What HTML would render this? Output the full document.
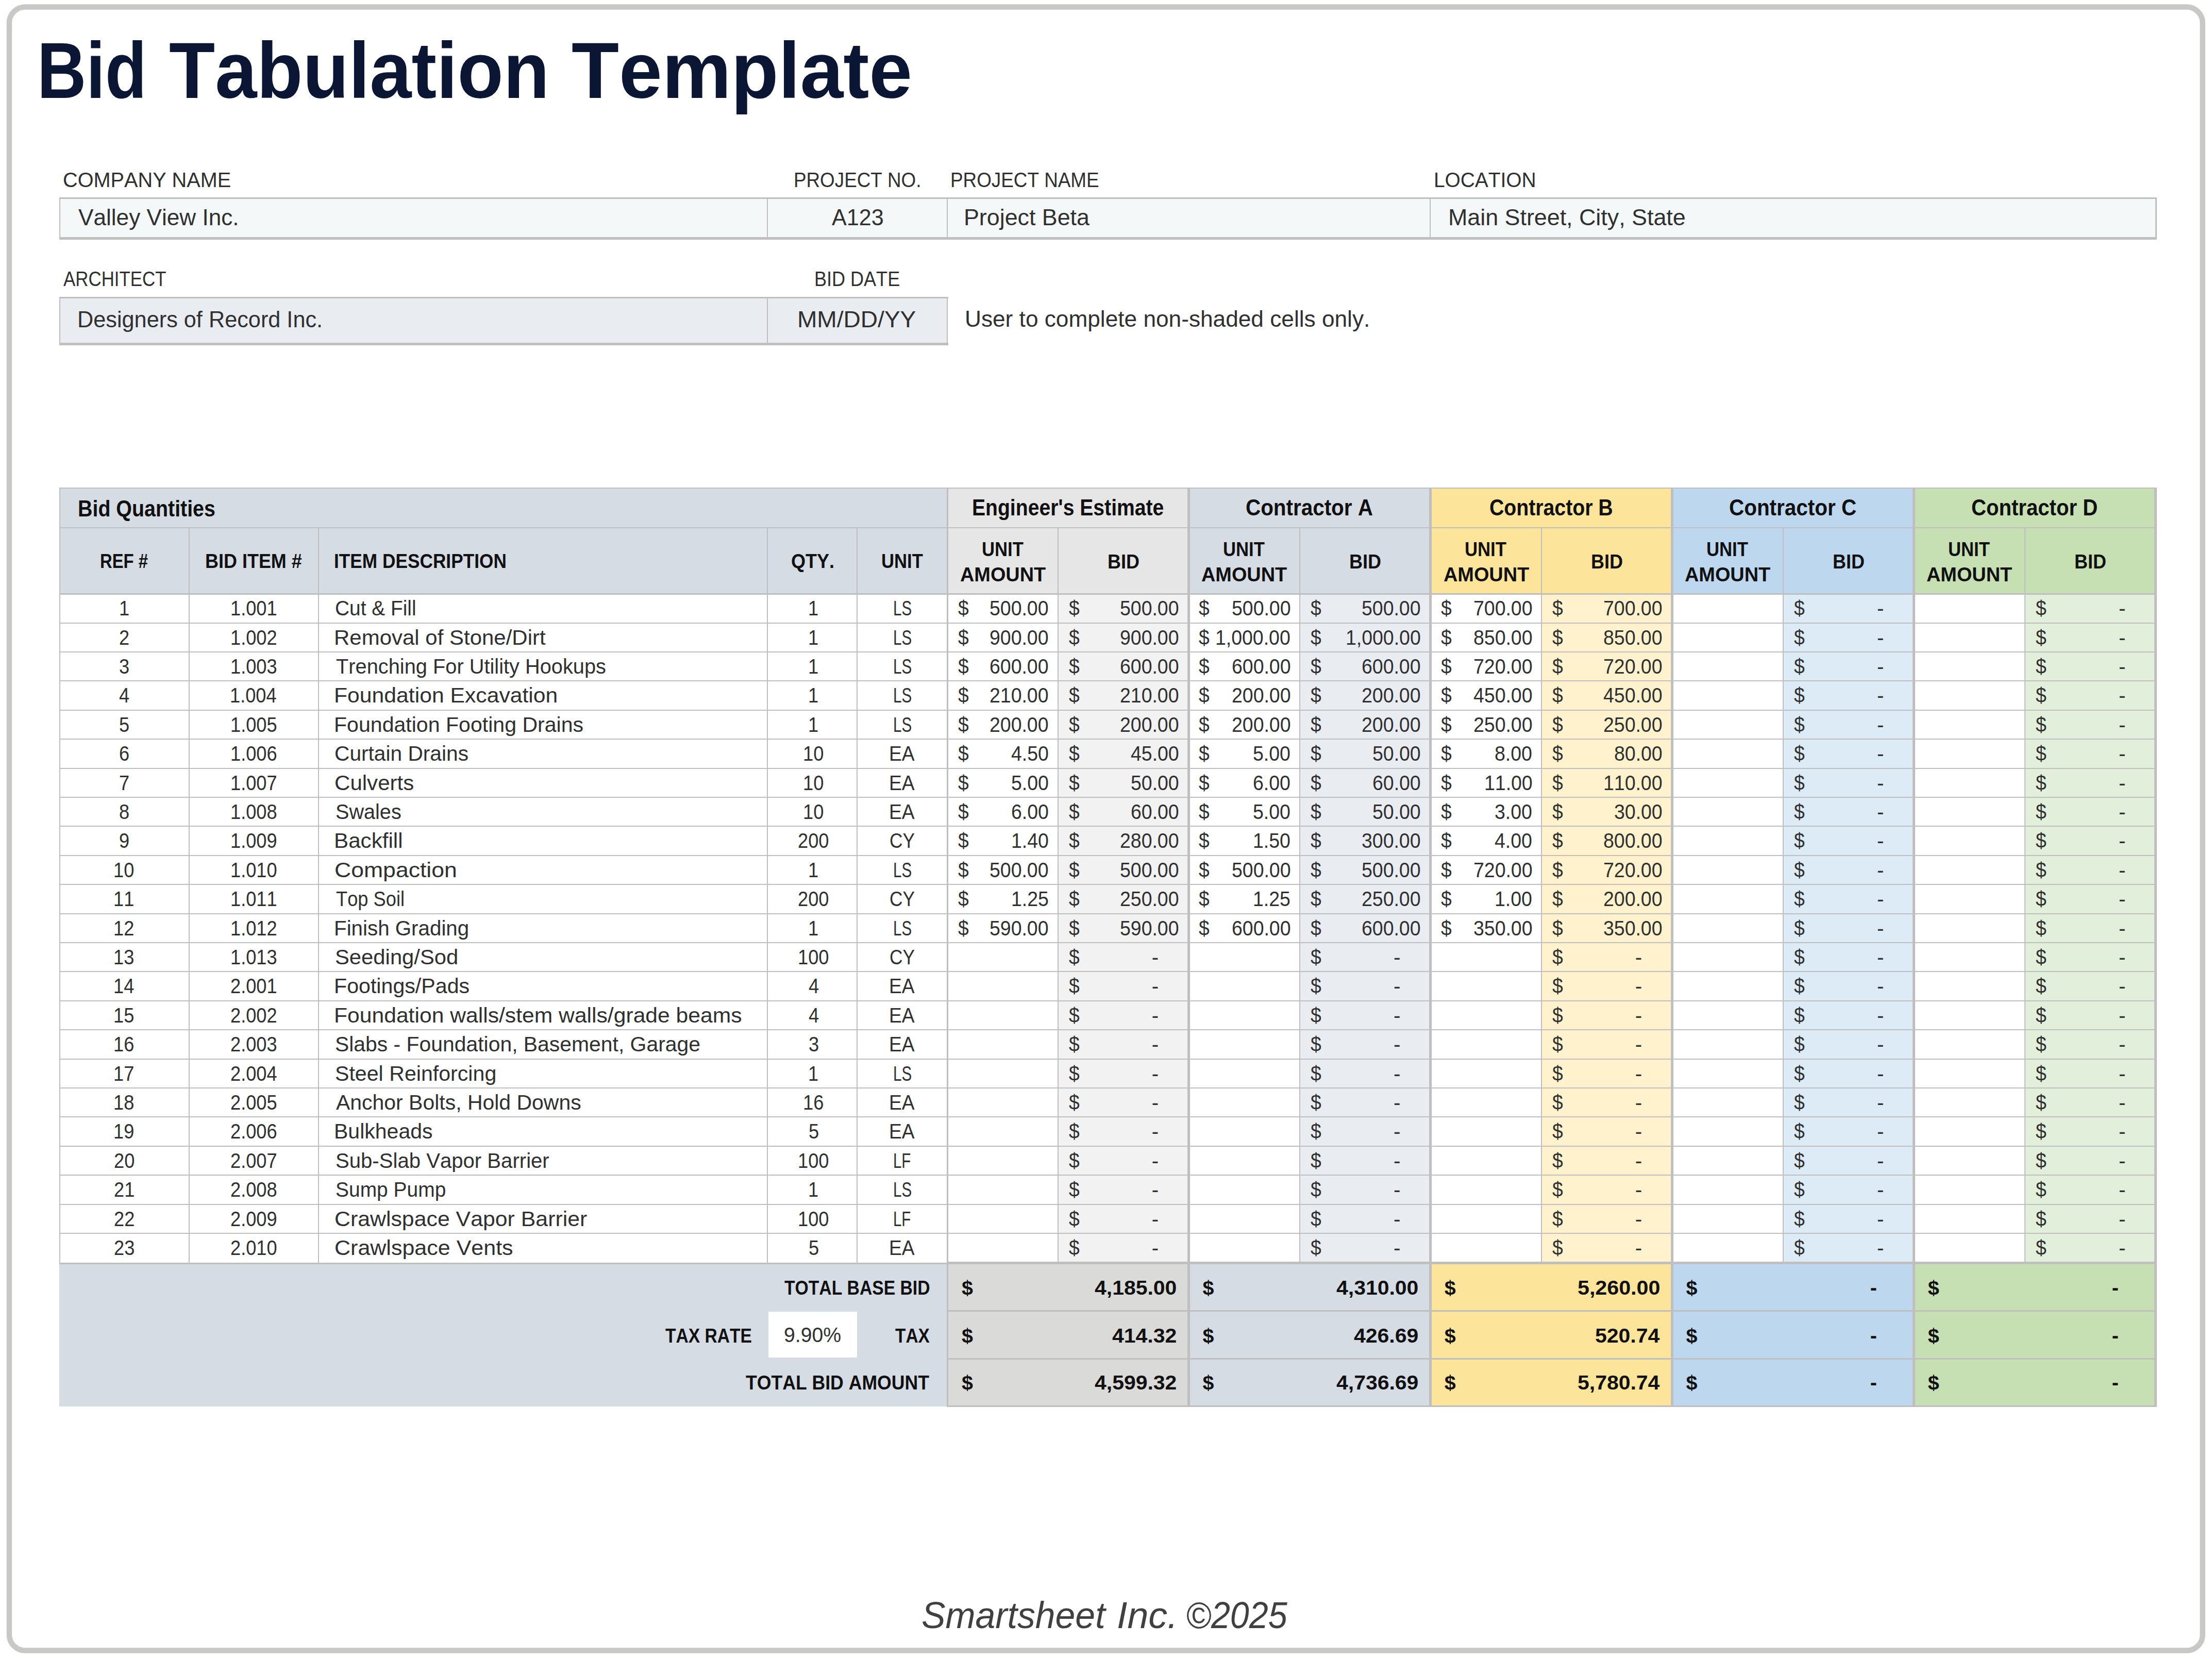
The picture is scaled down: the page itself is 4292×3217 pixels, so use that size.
<!DOCTYPE html>
<html lang="en"><head><meta charset="utf-8"><title>Bid Tabulation Template</title>
<style>
html,body{margin:0;padding:0;width:4292px;height:3217px;overflow:hidden;background:#fff;}
.r{position:absolute;}
.t{position:absolute;white-space:nowrap;font-family:"Liberation Sans",Arial,sans-serif;color:#111;transform-origin:0 0;font-kerning:none;}
</style></head><body>
<svg class="r" style="left:0;top:0" width="4292" height="3217" viewBox="0 0 4292 3217"><rect x="17.95" y="13.45" width="4255.8" height="3189.1" rx="30.8" ry="30.8" fill="none" stroke="#c8c8c6" stroke-width="10.5"/></svg>
<div class="r" style="left:116.00px;top:384.60px;width:4067.50px;height:78.00px;background:#f5f8f9;"></div>
<div class="r" style="left:115.00px;top:383.00px;width:4070.00px;height:2.70px;background:#bfbfbf;"></div>
<div class="r" style="left:115.00px;top:460.00px;width:4070.00px;height:4.70px;background:#bfbfbf;"></div>
<div class="r" style="left:115.00px;top:383.30px;width:2.20px;height:81.70px;background:#bfbfbf;"></div>
<div class="r" style="left:4182.00px;top:383.30px;width:2.70px;height:81.70px;background:#bfbfbf;"></div>
<div class="r" style="left:1488.00px;top:384.00px;width:2.30px;height:78.00px;background:#bfbfbf;"></div>
<div class="r" style="left:1837.00px;top:384.00px;width:2.30px;height:78.00px;background:#bfbfbf;"></div>
<div class="r" style="left:2774.00px;top:384.00px;width:2.30px;height:78.00px;background:#bfbfbf;"></div>
<div class="r" style="left:116.00px;top:577.00px;width:1722.00px;height:90.00px;background:#e9ecf1;"></div>
<div class="r" style="left:115.00px;top:576.00px;width:1724.60px;height:2.60px;background:#bfbfbf;"></div>
<div class="r" style="left:115.00px;top:665.00px;width:1724.60px;height:4.60px;background:#bfbfbf;"></div>
<div class="r" style="left:115.00px;top:576.00px;width:2.20px;height:93.60px;background:#bfbfbf;"></div>
<div class="r" style="left:1837.00px;top:576.00px;width:2.40px;height:93.60px;background:#bfbfbf;"></div>
<div class="r" style="left:1488.00px;top:577.00px;width:2.30px;height:90.00px;background:#bfbfbf;"></div>
<div class="r" style="left:116.00px;top:947.20px;width:1722.40px;height:205.10px;background:#d6dce4;"></div>
<div class="r" style="left:1838.40px;top:947.20px;width:467.70px;height:205.10px;background:#e7e6e6;"></div>
<div class="r" style="left:1838.40px;top:1152.30px;width:215.00px;height:1298.30px;background:#ffffff;"></div>
<div class="r" style="left:2053.40px;top:1152.30px;width:252.70px;height:1298.30px;background:#f2f2f2;"></div>
<div class="r" style="left:1838.40px;top:2450.60px;width:467.70px;height:277.70px;background:#dadad8;"></div>
<div class="r" style="left:2306.10px;top:947.20px;width:469.20px;height:205.10px;background:#d6dce4;"></div>
<div class="r" style="left:2306.10px;top:1152.30px;width:216.40px;height:1298.30px;background:#ffffff;"></div>
<div class="r" style="left:2522.50px;top:1152.30px;width:252.80px;height:1298.30px;background:#e9ecf1;"></div>
<div class="r" style="left:2306.10px;top:2450.60px;width:469.20px;height:277.70px;background:#d6dce4;"></div>
<div class="r" style="left:2775.30px;top:947.20px;width:468.80px;height:205.10px;background:#fde49b;"></div>
<div class="r" style="left:2775.30px;top:1152.30px;width:216.40px;height:1298.30px;background:#ffffff;"></div>
<div class="r" style="left:2991.70px;top:1152.30px;width:252.40px;height:1298.30px;background:#fff2cc;"></div>
<div class="r" style="left:2775.30px;top:2450.60px;width:468.80px;height:277.70px;background:#fde49b;"></div>
<div class="r" style="left:3244.10px;top:947.20px;width:469.10px;height:205.10px;background:#bdd7ee;"></div>
<div class="r" style="left:3244.10px;top:1152.30px;width:216.40px;height:1298.30px;background:#ffffff;"></div>
<div class="r" style="left:3460.50px;top:1152.30px;width:252.70px;height:1298.30px;background:#ddebf7;"></div>
<div class="r" style="left:3244.10px;top:2450.60px;width:469.10px;height:277.70px;background:#bdd7ee;"></div>
<div class="r" style="left:3713.20px;top:947.20px;width:469.10px;height:205.10px;background:#c6e0b4;"></div>
<div class="r" style="left:3713.20px;top:1152.30px;width:216.40px;height:1298.30px;background:#ffffff;"></div>
<div class="r" style="left:3929.60px;top:1152.30px;width:252.70px;height:1298.30px;background:#e2efda;"></div>
<div class="r" style="left:3713.20px;top:2450.60px;width:469.10px;height:277.70px;background:#c6e0b4;"></div>
<div class="r" style="left:115.00px;top:2450.60px;width:1723.40px;height:278.90px;background:#d6dce4;"></div>
<div class="r" style="left:1490.80px;top:2545.20px;width:172.00px;height:89.30px;background:#ffffff;"></div>
<div class="r" style="left:115.00px;top:946.00px;width:4070.00px;height:2.40px;background:#bfbfbf;"></div>
<div class="r" style="left:115.00px;top:1023.00px;width:4070.00px;height:2.20px;background:#bfbfbf;"></div>
<div class="r" style="left:115.00px;top:1151.00px;width:4070.00px;height:2.60px;background:#bfbfbf;"></div>
<div class="r" style="left:115.00px;top:1208.00px;width:4070.00px;height:2.30px;background:#bfbfbf;"></div>
<div class="r" style="left:115.00px;top:1264.00px;width:4070.00px;height:2.30px;background:#bfbfbf;"></div>
<div class="r" style="left:115.00px;top:1320.00px;width:4070.00px;height:2.30px;background:#bfbfbf;"></div>
<div class="r" style="left:115.00px;top:1377.00px;width:4070.00px;height:2.30px;background:#bfbfbf;"></div>
<div class="r" style="left:115.00px;top:1433.00px;width:4070.00px;height:2.30px;background:#bfbfbf;"></div>
<div class="r" style="left:115.00px;top:1490.00px;width:4070.00px;height:2.30px;background:#bfbfbf;"></div>
<div class="r" style="left:115.00px;top:1546.00px;width:4070.00px;height:2.30px;background:#bfbfbf;"></div>
<div class="r" style="left:115.00px;top:1602.00px;width:4070.00px;height:2.30px;background:#bfbfbf;"></div>
<div class="r" style="left:115.00px;top:1659.00px;width:4070.00px;height:2.30px;background:#bfbfbf;"></div>
<div class="r" style="left:115.00px;top:1715.00px;width:4070.00px;height:2.30px;background:#bfbfbf;"></div>
<div class="r" style="left:115.00px;top:1772.00px;width:4070.00px;height:2.30px;background:#bfbfbf;"></div>
<div class="r" style="left:115.00px;top:1828.00px;width:4070.00px;height:2.30px;background:#bfbfbf;"></div>
<div class="r" style="left:115.00px;top:1884.00px;width:4070.00px;height:2.30px;background:#bfbfbf;"></div>
<div class="r" style="left:115.00px;top:1941.00px;width:4070.00px;height:2.30px;background:#bfbfbf;"></div>
<div class="r" style="left:115.00px;top:1997.00px;width:4070.00px;height:2.30px;background:#bfbfbf;"></div>
<div class="r" style="left:115.00px;top:2054.00px;width:4070.00px;height:2.30px;background:#bfbfbf;"></div>
<div class="r" style="left:115.00px;top:2110.00px;width:4070.00px;height:2.30px;background:#bfbfbf;"></div>
<div class="r" style="left:115.00px;top:2166.00px;width:4070.00px;height:2.30px;background:#bfbfbf;"></div>
<div class="r" style="left:115.00px;top:2223.00px;width:4070.00px;height:2.30px;background:#bfbfbf;"></div>
<div class="r" style="left:115.00px;top:2279.00px;width:4070.00px;height:2.30px;background:#bfbfbf;"></div>
<div class="r" style="left:115.00px;top:2336.00px;width:4070.00px;height:2.30px;background:#bfbfbf;"></div>
<div class="r" style="left:115.00px;top:2392.00px;width:4070.00px;height:2.30px;background:#bfbfbf;"></div>
<div class="r" style="left:115.00px;top:2450.00px;width:1723.40px;height:2.80px;background:#bfbfbf;"></div>
<div class="r" style="left:1838.40px;top:2448.00px;width:2346.60px;height:5.00px;background:#bfbfbf;"></div>
<div class="r" style="left:1838.40px;top:2542.00px;width:2346.60px;height:2.60px;background:#bfbfbf;"></div>
<div class="r" style="left:1838.40px;top:2635.00px;width:2346.60px;height:2.60px;background:#bfbfbf;"></div>
<div class="r" style="left:1838.40px;top:2727.00px;width:2346.60px;height:2.90px;background:#bfbfbf;"></div>
<div class="r" style="left:115.00px;top:946.00px;width:2.20px;height:1506.00px;background:#bfbfbf;"></div>
<div class="r" style="left:366.00px;top:1024.10px;width:2.40px;height:1426.50px;background:#bfbfbf;"></div>
<div class="r" style="left:617.00px;top:1024.10px;width:2.40px;height:1426.50px;background:#bfbfbf;"></div>
<div class="r" style="left:1488.00px;top:1024.10px;width:2.40px;height:1426.50px;background:#bfbfbf;"></div>
<div class="r" style="left:1662.00px;top:1024.10px;width:2.40px;height:1426.50px;background:#bfbfbf;"></div>
<div class="r" style="left:1837.00px;top:946.00px;width:2.50px;height:1783.70px;background:#bfbfbf;"></div>
<div class="r" style="left:2052.00px;top:1024.10px;width:2.40px;height:1426.50px;background:#bfbfbf;"></div>
<div class="r" style="left:2304.00px;top:946.00px;width:4.80px;height:1783.70px;background:#bfbfbf;"></div>
<div class="r" style="left:2521.00px;top:1024.10px;width:2.40px;height:1426.50px;background:#bfbfbf;"></div>
<div class="r" style="left:2773.00px;top:946.00px;width:4.80px;height:1783.70px;background:#bfbfbf;"></div>
<div class="r" style="left:2990.00px;top:1024.10px;width:2.40px;height:1426.50px;background:#bfbfbf;"></div>
<div class="r" style="left:3242.00px;top:946.00px;width:4.80px;height:1783.70px;background:#bfbfbf;"></div>
<div class="r" style="left:3459.00px;top:1024.10px;width:2.40px;height:1426.50px;background:#bfbfbf;"></div>
<div class="r" style="left:3711.00px;top:946.00px;width:4.80px;height:1783.70px;background:#bfbfbf;"></div>
<div class="r" style="left:3928.00px;top:1024.10px;width:2.40px;height:1426.50px;background:#bfbfbf;"></div>
<div class="r" style="left:4180.00px;top:946.00px;width:4.80px;height:1783.70px;background:#bfbfbf;"></div>
<div class="t" style="left:72.40px;top:60.54px;font-size:153.49px;line-height:153.49px;font-weight:700;color:#0b1635;transform:scaleX(0.8603);">Bid</div>
<div class="t" style="left:328.45px;top:60.54px;font-size:153.49px;line-height:153.49px;font-weight:700;color:#0b1635;transform:scaleX(0.9511);">Tabulation</div>
<div class="t" style="left:1109.22px;top:60.54px;font-size:153.49px;line-height:153.49px;font-weight:700;color:#0b1635;transform:scaleX(0.9811);">Template</div>
<div class="t" style="left:122.45px;top:329.24px;font-size:40.70px;line-height:40.70px;color:#303030;transform:scaleX(0.9751);">COMPANY NAME</div>
<div class="t" style="left:1540.39px;top:329.24px;font-size:40.70px;line-height:40.70px;color:#303030;transform:scaleX(0.9045);">PROJECT NO.</div>
<div class="t" style="left:1843.58px;top:329.24px;font-size:40.70px;line-height:40.70px;color:#303030;transform:scaleX(0.9053);">PROJECT NAME</div>
<div class="t" style="left:2781.74px;top:329.24px;font-size:40.70px;line-height:40.70px;color:#303030;transform:scaleX(0.9546);">LOCATION</div>
<div class="t" style="left:151.50px;top:400.23px;font-size:43.90px;line-height:43.90px;color:#303030;transform:scaleX(1.0058);">Valley View Inc.</div>
<div class="t" style="left:1614.30px;top:400.23px;font-size:43.90px;line-height:43.90px;color:#303030;transform:scaleX(0.9822);">A123</div>
<div class="t" style="left:1870.34px;top:400.23px;font-size:43.90px;line-height:43.90px;color:#303030;transform:scaleX(1.0204);">Project Beta</div>
<div class="t" style="left:2810.34px;top:400.23px;font-size:43.90px;line-height:43.90px;color:#303030;transform:scaleX(1.0209);">Main Street, City, State</div>
<div class="t" style="left:122.60px;top:520.94px;font-size:40.70px;line-height:40.70px;color:#303030;transform:scaleX(0.8574);">ARCHITECT</div>
<div class="t" style="left:1580.04px;top:521.24px;font-size:40.70px;line-height:40.70px;color:#303030;transform:scaleX(0.8855);">BID DATE</div>
<div class="t" style="left:149.94px;top:597.93px;font-size:43.90px;line-height:43.90px;color:#303030;transform:scaleX(0.9857);">Designers of Record Inc.</div>
<div class="t" style="left:1547.35px;top:598.13px;font-size:43.90px;line-height:43.90px;color:#303030;transform:scaleX(1.0496);">MM/DD/YY</div>
<div class="t" style="left:1871.98px;top:597.43px;font-size:43.90px;line-height:43.90px;color:#303030;transform:scaleX(1.0072);">User to complete non-shaded cells only.</div>
<div class="t" style="left:150.69px;top:965.88px;font-size:43.61px;line-height:43.61px;font-weight:700;transform:scaleX(0.9030);">Bid Quantities</div>
<div class="t" style="left:1885.76px;top:964.38px;font-size:43.61px;line-height:43.61px;font-weight:700;transform:scaleX(0.8969);">Engineer&#x27;s Estimate</div>
<div class="t" style="left:2417.02px;top:964.38px;font-size:43.61px;line-height:43.61px;font-weight:700;transform:scaleX(0.9264);">Contractor A</div>
<div class="t" style="left:2890.10px;top:964.38px;font-size:43.61px;line-height:43.61px;font-weight:700;transform:scaleX(0.8992);">Contractor B</div>
<div class="t" style="left:3354.82px;top:964.38px;font-size:43.61px;line-height:43.61px;font-weight:700;transform:scaleX(0.9275);">Contractor C</div>
<div class="t" style="left:3825.38px;top:964.38px;font-size:43.61px;line-height:43.61px;font-weight:700;transform:scaleX(0.9200);">Contractor D</div>
<div class="t" style="left:193.99px;top:1069.22px;font-size:39.54px;line-height:39.54px;font-weight:700;transform:scaleX(0.8306);">REF #</div>
<div class="t" style="left:397.78px;top:1069.22px;font-size:39.54px;line-height:39.54px;font-weight:700;transform:scaleX(0.9097);">BID ITEM #</div>
<div class="t" style="left:648.22px;top:1069.22px;font-size:39.54px;line-height:39.54px;font-weight:700;transform:scaleX(0.8916);">ITEM DESCRIPTION</div>
<div class="t" style="left:1534.99px;top:1069.22px;font-size:39.54px;line-height:39.54px;font-weight:700;transform:scaleX(0.9108);">QTY.</div>
<div class="t" style="left:1709.75px;top:1069.22px;font-size:39.54px;line-height:39.54px;font-weight:700;transform:scaleX(0.8770);">UNIT</div>
<div class="t" style="left:1904.65px;top:1046.32px;font-size:39.54px;line-height:39.54px;font-weight:700;transform:scaleX(0.8770);">UNIT</div>
<div class="t" style="left:1862.90px;top:1095.32px;font-size:39.54px;line-height:39.54px;font-weight:700;transform:scaleX(0.9577);">AMOUNT</div>
<div class="t" style="left:2148.58px;top:1070.02px;font-size:39.54px;line-height:39.54px;font-weight:700;transform:scaleX(0.9096);">BID</div>
<div class="t" style="left:2373.05px;top:1046.32px;font-size:39.54px;line-height:39.54px;font-weight:700;transform:scaleX(0.8770);">UNIT</div>
<div class="t" style="left:2331.30px;top:1095.32px;font-size:39.54px;line-height:39.54px;font-weight:700;transform:scaleX(0.9577);">AMOUNT</div>
<div class="t" style="left:2617.73px;top:1070.02px;font-size:39.54px;line-height:39.54px;font-weight:700;transform:scaleX(0.9096);">BID</div>
<div class="t" style="left:2842.25px;top:1046.32px;font-size:39.54px;line-height:39.54px;font-weight:700;transform:scaleX(0.8770);">UNIT</div>
<div class="t" style="left:2800.50px;top:1095.32px;font-size:39.54px;line-height:39.54px;font-weight:700;transform:scaleX(0.9577);">AMOUNT</div>
<div class="t" style="left:3086.73px;top:1070.02px;font-size:39.54px;line-height:39.54px;font-weight:700;transform:scaleX(0.9096);">BID</div>
<div class="t" style="left:3311.05px;top:1046.32px;font-size:39.54px;line-height:39.54px;font-weight:700;transform:scaleX(0.8770);">UNIT</div>
<div class="t" style="left:3269.30px;top:1095.32px;font-size:39.54px;line-height:39.54px;font-weight:700;transform:scaleX(0.9577);">AMOUNT</div>
<div class="t" style="left:3555.68px;top:1070.02px;font-size:39.54px;line-height:39.54px;font-weight:700;transform:scaleX(0.9096);">BID</div>
<div class="t" style="left:3780.15px;top:1046.32px;font-size:39.54px;line-height:39.54px;font-weight:700;transform:scaleX(0.8770);">UNIT</div>
<div class="t" style="left:3738.40px;top:1095.32px;font-size:39.54px;line-height:39.54px;font-weight:700;transform:scaleX(0.9577);">AMOUNT</div>
<div class="t" style="left:4024.78px;top:1070.02px;font-size:39.54px;line-height:39.54px;font-weight:700;transform:scaleX(0.9096);">BID</div>
<div class="t" style="left:230.55px;top:1161.11px;font-size:40.26px;line-height:40.26px;color:#303030;transform:scaleX(0.9000);">1</div>
<div class="t" style="left:446.55px;top:1161.11px;font-size:40.26px;line-height:40.26px;color:#303030;transform:scaleX(0.9000);">1.001</div>
<div class="t" style="left:649.57px;top:1161.11px;font-size:40.26px;line-height:40.26px;color:#303030;transform:scaleX(0.9654);">Cut &amp; Fill</div>
<div class="t" style="left:1567.75px;top:1161.11px;font-size:40.26px;line-height:40.26px;color:#303030;transform:scaleX(0.9000);">1</div>
<div class="t" style="left:1732.50px;top:1161.11px;font-size:40.26px;line-height:40.26px;color:#303030;transform:scaleX(0.7345);">LS</div>
<div class="t" style="left:1858.70px;top:1161.11px;font-size:40.26px;line-height:40.26px;color:#303030;transform:scaleX(0.9227);">$</div>
<div class="t" style="left:1920.40px;top:1161.11px;font-size:40.26px;line-height:40.26px;color:#303030;transform:scaleX(0.9300);">500.00</div>
<div class="t" style="left:2073.70px;top:1161.11px;font-size:40.26px;line-height:40.26px;color:#303030;transform:scaleX(0.9227);">$</div>
<div class="t" style="left:2173.10px;top:1161.11px;font-size:40.26px;line-height:40.26px;color:#303030;transform:scaleX(0.9300);">500.00</div>
<div class="t" style="left:2326.40px;top:1161.11px;font-size:40.26px;line-height:40.26px;color:#303030;transform:scaleX(0.9227);">$</div>
<div class="t" style="left:2389.50px;top:1161.11px;font-size:40.26px;line-height:40.26px;color:#303030;transform:scaleX(0.9300);">500.00</div>
<div class="t" style="left:2542.80px;top:1161.11px;font-size:40.26px;line-height:40.26px;color:#303030;transform:scaleX(0.9227);">$</div>
<div class="t" style="left:2642.30px;top:1161.11px;font-size:40.26px;line-height:40.26px;color:#303030;transform:scaleX(0.9300);">500.00</div>
<div class="t" style="left:2795.60px;top:1161.11px;font-size:40.26px;line-height:40.26px;color:#303030;transform:scaleX(0.9227);">$</div>
<div class="t" style="left:2858.70px;top:1161.11px;font-size:40.26px;line-height:40.26px;color:#303030;transform:scaleX(0.9300);">700.00</div>
<div class="t" style="left:3012.00px;top:1161.11px;font-size:40.26px;line-height:40.26px;color:#303030;transform:scaleX(0.9227);">$</div>
<div class="t" style="left:3111.10px;top:1161.11px;font-size:40.26px;line-height:40.26px;color:#303030;transform:scaleX(0.9300);">700.00</div>
<div class="t" style="left:3480.80px;top:1161.11px;font-size:40.26px;line-height:40.26px;color:#303030;transform:scaleX(0.9227);">$</div>
<div class="t" style="left:3641.90px;top:1161.11px;font-size:40.26px;line-height:40.26px;color:#303030;">-</div>
<div class="t" style="left:3949.90px;top:1161.11px;font-size:40.26px;line-height:40.26px;color:#303030;transform:scaleX(0.9227);">$</div>
<div class="t" style="left:4111.00px;top:1161.11px;font-size:40.26px;line-height:40.26px;color:#303030;">-</div>
<div class="t" style="left:231.00px;top:1217.51px;font-size:40.26px;line-height:40.26px;color:#303030;transform:scaleX(0.9000);">2</div>
<div class="t" style="left:446.55px;top:1217.51px;font-size:40.26px;line-height:40.26px;color:#303030;transform:scaleX(0.9000);">1.002</div>
<div class="t" style="left:648.37px;top:1217.51px;font-size:40.26px;line-height:40.26px;color:#303030;transform:scaleX(1.0429);">Removal of Stone/Dirt</div>
<div class="t" style="left:1567.75px;top:1217.51px;font-size:40.26px;line-height:40.26px;color:#303030;transform:scaleX(0.9000);">1</div>
<div class="t" style="left:1732.50px;top:1217.51px;font-size:40.26px;line-height:40.26px;color:#303030;transform:scaleX(0.7345);">LS</div>
<div class="t" style="left:1858.70px;top:1217.51px;font-size:40.26px;line-height:40.26px;color:#303030;transform:scaleX(0.9227);">$</div>
<div class="t" style="left:1920.40px;top:1217.51px;font-size:40.26px;line-height:40.26px;color:#303030;transform:scaleX(0.9300);">900.00</div>
<div class="t" style="left:2073.70px;top:1217.51px;font-size:40.26px;line-height:40.26px;color:#303030;transform:scaleX(0.9227);">$</div>
<div class="t" style="left:2173.10px;top:1217.51px;font-size:40.26px;line-height:40.26px;color:#303030;transform:scaleX(0.9300);">900.00</div>
<div class="t" style="left:2326.40px;top:1217.51px;font-size:40.26px;line-height:40.26px;color:#303030;transform:scaleX(0.9227);">$</div>
<div class="t" style="left:2358.28px;top:1217.51px;font-size:40.26px;line-height:40.26px;color:#303030;transform:scaleX(0.9300);">1,000.00</div>
<div class="t" style="left:2542.80px;top:1217.51px;font-size:40.26px;line-height:40.26px;color:#303030;transform:scaleX(0.9227);">$</div>
<div class="t" style="left:2611.08px;top:1217.51px;font-size:40.26px;line-height:40.26px;color:#303030;transform:scaleX(0.9300);">1,000.00</div>
<div class="t" style="left:2795.60px;top:1217.51px;font-size:40.26px;line-height:40.26px;color:#303030;transform:scaleX(0.9227);">$</div>
<div class="t" style="left:2858.70px;top:1217.51px;font-size:40.26px;line-height:40.26px;color:#303030;transform:scaleX(0.9300);">850.00</div>
<div class="t" style="left:3012.00px;top:1217.51px;font-size:40.26px;line-height:40.26px;color:#303030;transform:scaleX(0.9227);">$</div>
<div class="t" style="left:3111.10px;top:1217.51px;font-size:40.26px;line-height:40.26px;color:#303030;transform:scaleX(0.9300);">850.00</div>
<div class="t" style="left:3480.80px;top:1217.51px;font-size:40.26px;line-height:40.26px;color:#303030;transform:scaleX(0.9227);">$</div>
<div class="t" style="left:3641.90px;top:1217.51px;font-size:40.26px;line-height:40.26px;color:#303030;">-</div>
<div class="t" style="left:3949.90px;top:1217.51px;font-size:40.26px;line-height:40.26px;color:#303030;transform:scaleX(0.9227);">$</div>
<div class="t" style="left:4111.00px;top:1217.51px;font-size:40.26px;line-height:40.26px;color:#303030;">-</div>
<div class="t" style="left:231.45px;top:1273.91px;font-size:40.26px;line-height:40.26px;color:#303030;transform:scaleX(0.9000);">3</div>
<div class="t" style="left:446.55px;top:1273.91px;font-size:40.26px;line-height:40.26px;color:#303030;transform:scaleX(0.9000);">1.003</div>
<div class="t" style="left:651.50px;top:1273.91px;font-size:40.26px;line-height:40.26px;color:#303030;transform:scaleX(0.9884);">Trenching For Utility Hookups</div>
<div class="t" style="left:1567.75px;top:1273.91px;font-size:40.26px;line-height:40.26px;color:#303030;transform:scaleX(0.9000);">1</div>
<div class="t" style="left:1732.50px;top:1273.91px;font-size:40.26px;line-height:40.26px;color:#303030;transform:scaleX(0.7345);">LS</div>
<div class="t" style="left:1858.70px;top:1273.91px;font-size:40.26px;line-height:40.26px;color:#303030;transform:scaleX(0.9227);">$</div>
<div class="t" style="left:1920.40px;top:1273.91px;font-size:40.26px;line-height:40.26px;color:#303030;transform:scaleX(0.9300);">600.00</div>
<div class="t" style="left:2073.70px;top:1273.91px;font-size:40.26px;line-height:40.26px;color:#303030;transform:scaleX(0.9227);">$</div>
<div class="t" style="left:2173.10px;top:1273.91px;font-size:40.26px;line-height:40.26px;color:#303030;transform:scaleX(0.9300);">600.00</div>
<div class="t" style="left:2326.40px;top:1273.91px;font-size:40.26px;line-height:40.26px;color:#303030;transform:scaleX(0.9227);">$</div>
<div class="t" style="left:2389.50px;top:1273.91px;font-size:40.26px;line-height:40.26px;color:#303030;transform:scaleX(0.9300);">600.00</div>
<div class="t" style="left:2542.80px;top:1273.91px;font-size:40.26px;line-height:40.26px;color:#303030;transform:scaleX(0.9227);">$</div>
<div class="t" style="left:2642.30px;top:1273.91px;font-size:40.26px;line-height:40.26px;color:#303030;transform:scaleX(0.9300);">600.00</div>
<div class="t" style="left:2795.60px;top:1273.91px;font-size:40.26px;line-height:40.26px;color:#303030;transform:scaleX(0.9227);">$</div>
<div class="t" style="left:2858.70px;top:1273.91px;font-size:40.26px;line-height:40.26px;color:#303030;transform:scaleX(0.9300);">720.00</div>
<div class="t" style="left:3012.00px;top:1273.91px;font-size:40.26px;line-height:40.26px;color:#303030;transform:scaleX(0.9227);">$</div>
<div class="t" style="left:3111.10px;top:1273.91px;font-size:40.26px;line-height:40.26px;color:#303030;transform:scaleX(0.9300);">720.00</div>
<div class="t" style="left:3480.80px;top:1273.91px;font-size:40.26px;line-height:40.26px;color:#303030;transform:scaleX(0.9227);">$</div>
<div class="t" style="left:3641.90px;top:1273.91px;font-size:40.26px;line-height:40.26px;color:#303030;">-</div>
<div class="t" style="left:3949.90px;top:1273.91px;font-size:40.26px;line-height:40.26px;color:#303030;transform:scaleX(0.9227);">$</div>
<div class="t" style="left:4111.00px;top:1273.91px;font-size:40.26px;line-height:40.26px;color:#303030;">-</div>
<div class="t" style="left:231.45px;top:1330.31px;font-size:40.26px;line-height:40.26px;color:#303030;transform:scaleX(0.9000);">4</div>
<div class="t" style="left:446.10px;top:1330.31px;font-size:40.26px;line-height:40.26px;color:#303030;transform:scaleX(0.9000);">1.004</div>
<div class="t" style="left:648.32px;top:1330.31px;font-size:40.26px;line-height:40.26px;color:#303030;transform:scaleX(1.0607);">Foundation Excavation</div>
<div class="t" style="left:1567.75px;top:1330.31px;font-size:40.26px;line-height:40.26px;color:#303030;transform:scaleX(0.9000);">1</div>
<div class="t" style="left:1732.50px;top:1330.31px;font-size:40.26px;line-height:40.26px;color:#303030;transform:scaleX(0.7345);">LS</div>
<div class="t" style="left:1858.70px;top:1330.31px;font-size:40.26px;line-height:40.26px;color:#303030;transform:scaleX(0.9227);">$</div>
<div class="t" style="left:1920.40px;top:1330.31px;font-size:40.26px;line-height:40.26px;color:#303030;transform:scaleX(0.9300);">210.00</div>
<div class="t" style="left:2073.70px;top:1330.31px;font-size:40.26px;line-height:40.26px;color:#303030;transform:scaleX(0.9227);">$</div>
<div class="t" style="left:2173.10px;top:1330.31px;font-size:40.26px;line-height:40.26px;color:#303030;transform:scaleX(0.9300);">210.00</div>
<div class="t" style="left:2326.40px;top:1330.31px;font-size:40.26px;line-height:40.26px;color:#303030;transform:scaleX(0.9227);">$</div>
<div class="t" style="left:2389.50px;top:1330.31px;font-size:40.26px;line-height:40.26px;color:#303030;transform:scaleX(0.9300);">200.00</div>
<div class="t" style="left:2542.80px;top:1330.31px;font-size:40.26px;line-height:40.26px;color:#303030;transform:scaleX(0.9227);">$</div>
<div class="t" style="left:2642.30px;top:1330.31px;font-size:40.26px;line-height:40.26px;color:#303030;transform:scaleX(0.9300);">200.00</div>
<div class="t" style="left:2795.60px;top:1330.31px;font-size:40.26px;line-height:40.26px;color:#303030;transform:scaleX(0.9227);">$</div>
<div class="t" style="left:2858.70px;top:1330.31px;font-size:40.26px;line-height:40.26px;color:#303030;transform:scaleX(0.9300);">450.00</div>
<div class="t" style="left:3012.00px;top:1330.31px;font-size:40.26px;line-height:40.26px;color:#303030;transform:scaleX(0.9227);">$</div>
<div class="t" style="left:3111.10px;top:1330.31px;font-size:40.26px;line-height:40.26px;color:#303030;transform:scaleX(0.9300);">450.00</div>
<div class="t" style="left:3480.80px;top:1330.31px;font-size:40.26px;line-height:40.26px;color:#303030;transform:scaleX(0.9227);">$</div>
<div class="t" style="left:3641.90px;top:1330.31px;font-size:40.26px;line-height:40.26px;color:#303030;">-</div>
<div class="t" style="left:3949.90px;top:1330.31px;font-size:40.26px;line-height:40.26px;color:#303030;transform:scaleX(0.9227);">$</div>
<div class="t" style="left:4111.00px;top:1330.31px;font-size:40.26px;line-height:40.26px;color:#303030;">-</div>
<div class="t" style="left:231.45px;top:1386.71px;font-size:40.26px;line-height:40.26px;color:#303030;transform:scaleX(0.9000);">5</div>
<div class="t" style="left:446.55px;top:1386.71px;font-size:40.26px;line-height:40.26px;color:#303030;transform:scaleX(0.9000);">1.005</div>
<div class="t" style="left:648.44px;top:1386.71px;font-size:40.26px;line-height:40.26px;color:#303030;transform:scaleX(1.0206);">Foundation Footing Drains</div>
<div class="t" style="left:1567.75px;top:1386.71px;font-size:40.26px;line-height:40.26px;color:#303030;transform:scaleX(0.9000);">1</div>
<div class="t" style="left:1732.50px;top:1386.71px;font-size:40.26px;line-height:40.26px;color:#303030;transform:scaleX(0.7345);">LS</div>
<div class="t" style="left:1858.70px;top:1386.71px;font-size:40.26px;line-height:40.26px;color:#303030;transform:scaleX(0.9227);">$</div>
<div class="t" style="left:1920.40px;top:1386.71px;font-size:40.26px;line-height:40.26px;color:#303030;transform:scaleX(0.9300);">200.00</div>
<div class="t" style="left:2073.70px;top:1386.71px;font-size:40.26px;line-height:40.26px;color:#303030;transform:scaleX(0.9227);">$</div>
<div class="t" style="left:2173.10px;top:1386.71px;font-size:40.26px;line-height:40.26px;color:#303030;transform:scaleX(0.9300);">200.00</div>
<div class="t" style="left:2326.40px;top:1386.71px;font-size:40.26px;line-height:40.26px;color:#303030;transform:scaleX(0.9227);">$</div>
<div class="t" style="left:2389.50px;top:1386.71px;font-size:40.26px;line-height:40.26px;color:#303030;transform:scaleX(0.9300);">200.00</div>
<div class="t" style="left:2542.80px;top:1386.71px;font-size:40.26px;line-height:40.26px;color:#303030;transform:scaleX(0.9227);">$</div>
<div class="t" style="left:2642.30px;top:1386.71px;font-size:40.26px;line-height:40.26px;color:#303030;transform:scaleX(0.9300);">200.00</div>
<div class="t" style="left:2795.60px;top:1386.71px;font-size:40.26px;line-height:40.26px;color:#303030;transform:scaleX(0.9227);">$</div>
<div class="t" style="left:2858.70px;top:1386.71px;font-size:40.26px;line-height:40.26px;color:#303030;transform:scaleX(0.9300);">250.00</div>
<div class="t" style="left:3012.00px;top:1386.71px;font-size:40.26px;line-height:40.26px;color:#303030;transform:scaleX(0.9227);">$</div>
<div class="t" style="left:3111.10px;top:1386.71px;font-size:40.26px;line-height:40.26px;color:#303030;transform:scaleX(0.9300);">250.00</div>
<div class="t" style="left:3480.80px;top:1386.71px;font-size:40.26px;line-height:40.26px;color:#303030;transform:scaleX(0.9227);">$</div>
<div class="t" style="left:3641.90px;top:1386.71px;font-size:40.26px;line-height:40.26px;color:#303030;">-</div>
<div class="t" style="left:3949.90px;top:1386.71px;font-size:40.26px;line-height:40.26px;color:#303030;transform:scaleX(0.9227);">$</div>
<div class="t" style="left:4111.00px;top:1386.71px;font-size:40.26px;line-height:40.26px;color:#303030;">-</div>
<div class="t" style="left:231.00px;top:1443.11px;font-size:40.26px;line-height:40.26px;color:#303030;transform:scaleX(0.9000);">6</div>
<div class="t" style="left:446.55px;top:1443.11px;font-size:40.26px;line-height:40.26px;color:#303030;transform:scaleX(0.9000);">1.006</div>
<div class="t" style="left:649.48px;top:1443.11px;font-size:40.26px;line-height:40.26px;color:#303030;transform:scaleX(1.0106);">Curtain Drains</div>
<div class="t" style="left:1557.68px;top:1443.11px;font-size:40.26px;line-height:40.26px;color:#303030;transform:scaleX(0.9000);">10</div>
<div class="t" style="left:1724.78px;top:1443.11px;font-size:40.26px;line-height:40.26px;color:#303030;transform:scaleX(0.9224);">EA</div>
<div class="t" style="left:1858.70px;top:1443.11px;font-size:40.26px;line-height:40.26px;color:#303030;transform:scaleX(0.9227);">$</div>
<div class="t" style="left:1962.03px;top:1443.11px;font-size:40.26px;line-height:40.26px;color:#303030;transform:scaleX(0.9300);">4.50</div>
<div class="t" style="left:2073.70px;top:1443.11px;font-size:40.26px;line-height:40.26px;color:#303030;transform:scaleX(0.9227);">$</div>
<div class="t" style="left:2193.92px;top:1443.11px;font-size:40.26px;line-height:40.26px;color:#303030;transform:scaleX(0.9300);">45.00</div>
<div class="t" style="left:2326.40px;top:1443.11px;font-size:40.26px;line-height:40.26px;color:#303030;transform:scaleX(0.9227);">$</div>
<div class="t" style="left:2431.13px;top:1443.11px;font-size:40.26px;line-height:40.26px;color:#303030;transform:scaleX(0.9300);">5.00</div>
<div class="t" style="left:2542.80px;top:1443.11px;font-size:40.26px;line-height:40.26px;color:#303030;transform:scaleX(0.9227);">$</div>
<div class="t" style="left:2663.12px;top:1443.11px;font-size:40.26px;line-height:40.26px;color:#303030;transform:scaleX(0.9300);">50.00</div>
<div class="t" style="left:2795.60px;top:1443.11px;font-size:40.26px;line-height:40.26px;color:#303030;transform:scaleX(0.9227);">$</div>
<div class="t" style="left:2900.33px;top:1443.11px;font-size:40.26px;line-height:40.26px;color:#303030;transform:scaleX(0.9300);">8.00</div>
<div class="t" style="left:3012.00px;top:1443.11px;font-size:40.26px;line-height:40.26px;color:#303030;transform:scaleX(0.9227);">$</div>
<div class="t" style="left:3131.92px;top:1443.11px;font-size:40.26px;line-height:40.26px;color:#303030;transform:scaleX(0.9300);">80.00</div>
<div class="t" style="left:3480.80px;top:1443.11px;font-size:40.26px;line-height:40.26px;color:#303030;transform:scaleX(0.9227);">$</div>
<div class="t" style="left:3641.90px;top:1443.11px;font-size:40.26px;line-height:40.26px;color:#303030;">-</div>
<div class="t" style="left:3949.90px;top:1443.11px;font-size:40.26px;line-height:40.26px;color:#303030;transform:scaleX(0.9227);">$</div>
<div class="t" style="left:4111.00px;top:1443.11px;font-size:40.26px;line-height:40.26px;color:#303030;">-</div>
<div class="t" style="left:231.00px;top:1499.51px;font-size:40.26px;line-height:40.26px;color:#303030;transform:scaleX(0.9000);">7</div>
<div class="t" style="left:446.55px;top:1499.51px;font-size:40.26px;line-height:40.26px;color:#303030;transform:scaleX(0.9000);">1.007</div>
<div class="t" style="left:649.41px;top:1499.51px;font-size:40.26px;line-height:40.26px;color:#303030;transform:scaleX(1.0450);">Culverts</div>
<div class="t" style="left:1557.68px;top:1499.51px;font-size:40.26px;line-height:40.26px;color:#303030;transform:scaleX(0.9000);">10</div>
<div class="t" style="left:1724.78px;top:1499.51px;font-size:40.26px;line-height:40.26px;color:#303030;transform:scaleX(0.9224);">EA</div>
<div class="t" style="left:1858.70px;top:1499.51px;font-size:40.26px;line-height:40.26px;color:#303030;transform:scaleX(0.9227);">$</div>
<div class="t" style="left:1962.03px;top:1499.51px;font-size:40.26px;line-height:40.26px;color:#303030;transform:scaleX(0.9300);">5.00</div>
<div class="t" style="left:2073.70px;top:1499.51px;font-size:40.26px;line-height:40.26px;color:#303030;transform:scaleX(0.9227);">$</div>
<div class="t" style="left:2193.92px;top:1499.51px;font-size:40.26px;line-height:40.26px;color:#303030;transform:scaleX(0.9300);">50.00</div>
<div class="t" style="left:2326.40px;top:1499.51px;font-size:40.26px;line-height:40.26px;color:#303030;transform:scaleX(0.9227);">$</div>
<div class="t" style="left:2431.13px;top:1499.51px;font-size:40.26px;line-height:40.26px;color:#303030;transform:scaleX(0.9300);">6.00</div>
<div class="t" style="left:2542.80px;top:1499.51px;font-size:40.26px;line-height:40.26px;color:#303030;transform:scaleX(0.9227);">$</div>
<div class="t" style="left:2663.12px;top:1499.51px;font-size:40.26px;line-height:40.26px;color:#303030;transform:scaleX(0.9300);">60.00</div>
<div class="t" style="left:2795.60px;top:1499.51px;font-size:40.26px;line-height:40.26px;color:#303030;transform:scaleX(0.9227);">$</div>
<div class="t" style="left:2879.52px;top:1499.51px;font-size:40.26px;line-height:40.26px;color:#303030;transform:scaleX(0.9300);">11.00</div>
<div class="t" style="left:3012.00px;top:1499.51px;font-size:40.26px;line-height:40.26px;color:#303030;transform:scaleX(0.9227);">$</div>
<div class="t" style="left:3111.10px;top:1499.51px;font-size:40.26px;line-height:40.26px;color:#303030;transform:scaleX(0.9300);">110.00</div>
<div class="t" style="left:3480.80px;top:1499.51px;font-size:40.26px;line-height:40.26px;color:#303030;transform:scaleX(0.9227);">$</div>
<div class="t" style="left:3641.90px;top:1499.51px;font-size:40.26px;line-height:40.26px;color:#303030;">-</div>
<div class="t" style="left:3949.90px;top:1499.51px;font-size:40.26px;line-height:40.26px;color:#303030;transform:scaleX(0.9227);">$</div>
<div class="t" style="left:4111.00px;top:1499.51px;font-size:40.26px;line-height:40.26px;color:#303030;">-</div>
<div class="t" style="left:231.45px;top:1555.91px;font-size:40.26px;line-height:40.26px;color:#303030;transform:scaleX(0.9000);">8</div>
<div class="t" style="left:446.55px;top:1555.91px;font-size:40.26px;line-height:40.26px;color:#303030;transform:scaleX(0.9000);">1.008</div>
<div class="t" style="left:650.52px;top:1555.91px;font-size:40.26px;line-height:40.26px;color:#303030;transform:scaleX(0.9841);">Swales</div>
<div class="t" style="left:1557.68px;top:1555.91px;font-size:40.26px;line-height:40.26px;color:#303030;transform:scaleX(0.9000);">10</div>
<div class="t" style="left:1724.78px;top:1555.91px;font-size:40.26px;line-height:40.26px;color:#303030;transform:scaleX(0.9224);">EA</div>
<div class="t" style="left:1858.70px;top:1555.91px;font-size:40.26px;line-height:40.26px;color:#303030;transform:scaleX(0.9227);">$</div>
<div class="t" style="left:1962.03px;top:1555.91px;font-size:40.26px;line-height:40.26px;color:#303030;transform:scaleX(0.9300);">6.00</div>
<div class="t" style="left:2073.70px;top:1555.91px;font-size:40.26px;line-height:40.26px;color:#303030;transform:scaleX(0.9227);">$</div>
<div class="t" style="left:2193.92px;top:1555.91px;font-size:40.26px;line-height:40.26px;color:#303030;transform:scaleX(0.9300);">60.00</div>
<div class="t" style="left:2326.40px;top:1555.91px;font-size:40.26px;line-height:40.26px;color:#303030;transform:scaleX(0.9227);">$</div>
<div class="t" style="left:2431.13px;top:1555.91px;font-size:40.26px;line-height:40.26px;color:#303030;transform:scaleX(0.9300);">5.00</div>
<div class="t" style="left:2542.80px;top:1555.91px;font-size:40.26px;line-height:40.26px;color:#303030;transform:scaleX(0.9227);">$</div>
<div class="t" style="left:2663.12px;top:1555.91px;font-size:40.26px;line-height:40.26px;color:#303030;transform:scaleX(0.9300);">50.00</div>
<div class="t" style="left:2795.60px;top:1555.91px;font-size:40.26px;line-height:40.26px;color:#303030;transform:scaleX(0.9227);">$</div>
<div class="t" style="left:2900.33px;top:1555.91px;font-size:40.26px;line-height:40.26px;color:#303030;transform:scaleX(0.9300);">3.00</div>
<div class="t" style="left:3012.00px;top:1555.91px;font-size:40.26px;line-height:40.26px;color:#303030;transform:scaleX(0.9227);">$</div>
<div class="t" style="left:3131.92px;top:1555.91px;font-size:40.26px;line-height:40.26px;color:#303030;transform:scaleX(0.9300);">30.00</div>
<div class="t" style="left:3480.80px;top:1555.91px;font-size:40.26px;line-height:40.26px;color:#303030;transform:scaleX(0.9227);">$</div>
<div class="t" style="left:3641.90px;top:1555.91px;font-size:40.26px;line-height:40.26px;color:#303030;">-</div>
<div class="t" style="left:3949.90px;top:1555.91px;font-size:40.26px;line-height:40.26px;color:#303030;transform:scaleX(0.9227);">$</div>
<div class="t" style="left:4111.00px;top:1555.91px;font-size:40.26px;line-height:40.26px;color:#303030;">-</div>
<div class="t" style="left:231.45px;top:1612.31px;font-size:40.26px;line-height:40.26px;color:#303030;transform:scaleX(0.9000);">9</div>
<div class="t" style="left:446.55px;top:1612.31px;font-size:40.26px;line-height:40.26px;color:#303030;transform:scaleX(0.9000);">1.009</div>
<div class="t" style="left:648.36px;top:1612.31px;font-size:40.26px;line-height:40.26px;color:#303030;transform:scaleX(1.0477);">Backfill</div>
<div class="t" style="left:1548.05px;top:1612.31px;font-size:40.26px;line-height:40.26px;color:#303030;transform:scaleX(0.9000);">200</div>
<div class="t" style="left:1726.05px;top:1612.31px;font-size:40.26px;line-height:40.26px;color:#303030;transform:scaleX(0.8744);">CY</div>
<div class="t" style="left:1858.70px;top:1612.31px;font-size:40.26px;line-height:40.26px;color:#303030;transform:scaleX(0.9227);">$</div>
<div class="t" style="left:1962.03px;top:1612.31px;font-size:40.26px;line-height:40.26px;color:#303030;transform:scaleX(0.9300);">1.40</div>
<div class="t" style="left:2073.70px;top:1612.31px;font-size:40.26px;line-height:40.26px;color:#303030;transform:scaleX(0.9227);">$</div>
<div class="t" style="left:2173.10px;top:1612.31px;font-size:40.26px;line-height:40.26px;color:#303030;transform:scaleX(0.9300);">280.00</div>
<div class="t" style="left:2326.40px;top:1612.31px;font-size:40.26px;line-height:40.26px;color:#303030;transform:scaleX(0.9227);">$</div>
<div class="t" style="left:2431.13px;top:1612.31px;font-size:40.26px;line-height:40.26px;color:#303030;transform:scaleX(0.9300);">1.50</div>
<div class="t" style="left:2542.80px;top:1612.31px;font-size:40.26px;line-height:40.26px;color:#303030;transform:scaleX(0.9227);">$</div>
<div class="t" style="left:2642.30px;top:1612.31px;font-size:40.26px;line-height:40.26px;color:#303030;transform:scaleX(0.9300);">300.00</div>
<div class="t" style="left:2795.60px;top:1612.31px;font-size:40.26px;line-height:40.26px;color:#303030;transform:scaleX(0.9227);">$</div>
<div class="t" style="left:2900.33px;top:1612.31px;font-size:40.26px;line-height:40.26px;color:#303030;transform:scaleX(0.9300);">4.00</div>
<div class="t" style="left:3012.00px;top:1612.31px;font-size:40.26px;line-height:40.26px;color:#303030;transform:scaleX(0.9227);">$</div>
<div class="t" style="left:3111.10px;top:1612.31px;font-size:40.26px;line-height:40.26px;color:#303030;transform:scaleX(0.9300);">800.00</div>
<div class="t" style="left:3480.80px;top:1612.31px;font-size:40.26px;line-height:40.26px;color:#303030;transform:scaleX(0.9227);">$</div>
<div class="t" style="left:3641.90px;top:1612.31px;font-size:40.26px;line-height:40.26px;color:#303030;">-</div>
<div class="t" style="left:3949.90px;top:1612.31px;font-size:40.26px;line-height:40.26px;color:#303030;transform:scaleX(0.9227);">$</div>
<div class="t" style="left:4111.00px;top:1612.31px;font-size:40.26px;line-height:40.26px;color:#303030;">-</div>
<div class="t" style="left:220.48px;top:1668.71px;font-size:40.26px;line-height:40.26px;color:#303030;transform:scaleX(0.9000);">10</div>
<div class="t" style="left:446.55px;top:1668.71px;font-size:40.26px;line-height:40.26px;color:#303030;transform:scaleX(0.9000);">1.010</div>
<div class="t" style="left:649.29px;top:1668.71px;font-size:40.26px;line-height:40.26px;color:#303030;transform:scaleX(1.1075);">Compaction</div>
<div class="t" style="left:1567.75px;top:1668.71px;font-size:40.26px;line-height:40.26px;color:#303030;transform:scaleX(0.9000);">1</div>
<div class="t" style="left:1732.50px;top:1668.71px;font-size:40.26px;line-height:40.26px;color:#303030;transform:scaleX(0.7345);">LS</div>
<div class="t" style="left:1858.70px;top:1668.71px;font-size:40.26px;line-height:40.26px;color:#303030;transform:scaleX(0.9227);">$</div>
<div class="t" style="left:1920.40px;top:1668.71px;font-size:40.26px;line-height:40.26px;color:#303030;transform:scaleX(0.9300);">500.00</div>
<div class="t" style="left:2073.70px;top:1668.71px;font-size:40.26px;line-height:40.26px;color:#303030;transform:scaleX(0.9227);">$</div>
<div class="t" style="left:2173.10px;top:1668.71px;font-size:40.26px;line-height:40.26px;color:#303030;transform:scaleX(0.9300);">500.00</div>
<div class="t" style="left:2326.40px;top:1668.71px;font-size:40.26px;line-height:40.26px;color:#303030;transform:scaleX(0.9227);">$</div>
<div class="t" style="left:2389.50px;top:1668.71px;font-size:40.26px;line-height:40.26px;color:#303030;transform:scaleX(0.9300);">500.00</div>
<div class="t" style="left:2542.80px;top:1668.71px;font-size:40.26px;line-height:40.26px;color:#303030;transform:scaleX(0.9227);">$</div>
<div class="t" style="left:2642.30px;top:1668.71px;font-size:40.26px;line-height:40.26px;color:#303030;transform:scaleX(0.9300);">500.00</div>
<div class="t" style="left:2795.60px;top:1668.71px;font-size:40.26px;line-height:40.26px;color:#303030;transform:scaleX(0.9227);">$</div>
<div class="t" style="left:2858.70px;top:1668.71px;font-size:40.26px;line-height:40.26px;color:#303030;transform:scaleX(0.9300);">720.00</div>
<div class="t" style="left:3012.00px;top:1668.71px;font-size:40.26px;line-height:40.26px;color:#303030;transform:scaleX(0.9227);">$</div>
<div class="t" style="left:3111.10px;top:1668.71px;font-size:40.26px;line-height:40.26px;color:#303030;transform:scaleX(0.9300);">720.00</div>
<div class="t" style="left:3480.80px;top:1668.71px;font-size:40.26px;line-height:40.26px;color:#303030;transform:scaleX(0.9227);">$</div>
<div class="t" style="left:3641.90px;top:1668.71px;font-size:40.26px;line-height:40.26px;color:#303030;">-</div>
<div class="t" style="left:3949.90px;top:1668.71px;font-size:40.26px;line-height:40.26px;color:#303030;transform:scaleX(0.9227);">$</div>
<div class="t" style="left:4111.00px;top:1668.71px;font-size:40.26px;line-height:40.26px;color:#303030;">-</div>
<div class="t" style="left:220.48px;top:1725.11px;font-size:40.26px;line-height:40.26px;color:#303030;transform:scaleX(0.9000);">11</div>
<div class="t" style="left:446.55px;top:1725.11px;font-size:40.26px;line-height:40.26px;color:#303030;transform:scaleX(0.9000);">1.011</div>
<div class="t" style="left:651.50px;top:1725.11px;font-size:40.26px;line-height:40.26px;color:#303030;transform:scaleX(0.9011);">Top Soil</div>
<div class="t" style="left:1548.05px;top:1725.11px;font-size:40.26px;line-height:40.26px;color:#303030;transform:scaleX(0.9000);">200</div>
<div class="t" style="left:1726.05px;top:1725.11px;font-size:40.26px;line-height:40.26px;color:#303030;transform:scaleX(0.8744);">CY</div>
<div class="t" style="left:1858.70px;top:1725.11px;font-size:40.26px;line-height:40.26px;color:#303030;transform:scaleX(0.9227);">$</div>
<div class="t" style="left:1962.03px;top:1725.11px;font-size:40.26px;line-height:40.26px;color:#303030;transform:scaleX(0.9300);">1.25</div>
<div class="t" style="left:2073.70px;top:1725.11px;font-size:40.26px;line-height:40.26px;color:#303030;transform:scaleX(0.9227);">$</div>
<div class="t" style="left:2173.10px;top:1725.11px;font-size:40.26px;line-height:40.26px;color:#303030;transform:scaleX(0.9300);">250.00</div>
<div class="t" style="left:2326.40px;top:1725.11px;font-size:40.26px;line-height:40.26px;color:#303030;transform:scaleX(0.9227);">$</div>
<div class="t" style="left:2431.13px;top:1725.11px;font-size:40.26px;line-height:40.26px;color:#303030;transform:scaleX(0.9300);">1.25</div>
<div class="t" style="left:2542.80px;top:1725.11px;font-size:40.26px;line-height:40.26px;color:#303030;transform:scaleX(0.9227);">$</div>
<div class="t" style="left:2642.30px;top:1725.11px;font-size:40.26px;line-height:40.26px;color:#303030;transform:scaleX(0.9300);">250.00</div>
<div class="t" style="left:2795.60px;top:1725.11px;font-size:40.26px;line-height:40.26px;color:#303030;transform:scaleX(0.9227);">$</div>
<div class="t" style="left:2900.33px;top:1725.11px;font-size:40.26px;line-height:40.26px;color:#303030;transform:scaleX(0.9300);">1.00</div>
<div class="t" style="left:3012.00px;top:1725.11px;font-size:40.26px;line-height:40.26px;color:#303030;transform:scaleX(0.9227);">$</div>
<div class="t" style="left:3111.10px;top:1725.11px;font-size:40.26px;line-height:40.26px;color:#303030;transform:scaleX(0.9300);">200.00</div>
<div class="t" style="left:3480.80px;top:1725.11px;font-size:40.26px;line-height:40.26px;color:#303030;transform:scaleX(0.9227);">$</div>
<div class="t" style="left:3641.90px;top:1725.11px;font-size:40.26px;line-height:40.26px;color:#303030;">-</div>
<div class="t" style="left:3949.90px;top:1725.11px;font-size:40.26px;line-height:40.26px;color:#303030;transform:scaleX(0.9227);">$</div>
<div class="t" style="left:4111.00px;top:1725.11px;font-size:40.26px;line-height:40.26px;color:#303030;">-</div>
<div class="t" style="left:220.48px;top:1781.51px;font-size:40.26px;line-height:40.26px;color:#303030;transform:scaleX(0.9000);">12</div>
<div class="t" style="left:446.55px;top:1781.51px;font-size:40.26px;line-height:40.26px;color:#303030;transform:scaleX(0.9000);">1.012</div>
<div class="t" style="left:648.49px;top:1781.51px;font-size:40.26px;line-height:40.26px;color:#303030;transform:scaleX(1.0017);">Finish Grading</div>
<div class="t" style="left:1567.75px;top:1781.51px;font-size:40.26px;line-height:40.26px;color:#303030;transform:scaleX(0.9000);">1</div>
<div class="t" style="left:1732.50px;top:1781.51px;font-size:40.26px;line-height:40.26px;color:#303030;transform:scaleX(0.7345);">LS</div>
<div class="t" style="left:1858.70px;top:1781.51px;font-size:40.26px;line-height:40.26px;color:#303030;transform:scaleX(0.9227);">$</div>
<div class="t" style="left:1920.40px;top:1781.51px;font-size:40.26px;line-height:40.26px;color:#303030;transform:scaleX(0.9300);">590.00</div>
<div class="t" style="left:2073.70px;top:1781.51px;font-size:40.26px;line-height:40.26px;color:#303030;transform:scaleX(0.9227);">$</div>
<div class="t" style="left:2173.10px;top:1781.51px;font-size:40.26px;line-height:40.26px;color:#303030;transform:scaleX(0.9300);">590.00</div>
<div class="t" style="left:2326.40px;top:1781.51px;font-size:40.26px;line-height:40.26px;color:#303030;transform:scaleX(0.9227);">$</div>
<div class="t" style="left:2389.50px;top:1781.51px;font-size:40.26px;line-height:40.26px;color:#303030;transform:scaleX(0.9300);">600.00</div>
<div class="t" style="left:2542.80px;top:1781.51px;font-size:40.26px;line-height:40.26px;color:#303030;transform:scaleX(0.9227);">$</div>
<div class="t" style="left:2642.30px;top:1781.51px;font-size:40.26px;line-height:40.26px;color:#303030;transform:scaleX(0.9300);">600.00</div>
<div class="t" style="left:2795.60px;top:1781.51px;font-size:40.26px;line-height:40.26px;color:#303030;transform:scaleX(0.9227);">$</div>
<div class="t" style="left:2858.70px;top:1781.51px;font-size:40.26px;line-height:40.26px;color:#303030;transform:scaleX(0.9300);">350.00</div>
<div class="t" style="left:3012.00px;top:1781.51px;font-size:40.26px;line-height:40.26px;color:#303030;transform:scaleX(0.9227);">$</div>
<div class="t" style="left:3111.10px;top:1781.51px;font-size:40.26px;line-height:40.26px;color:#303030;transform:scaleX(0.9300);">350.00</div>
<div class="t" style="left:3480.80px;top:1781.51px;font-size:40.26px;line-height:40.26px;color:#303030;transform:scaleX(0.9227);">$</div>
<div class="t" style="left:3641.90px;top:1781.51px;font-size:40.26px;line-height:40.26px;color:#303030;">-</div>
<div class="t" style="left:3949.90px;top:1781.51px;font-size:40.26px;line-height:40.26px;color:#303030;transform:scaleX(0.9227);">$</div>
<div class="t" style="left:4111.00px;top:1781.51px;font-size:40.26px;line-height:40.26px;color:#303030;">-</div>
<div class="t" style="left:220.48px;top:1837.91px;font-size:40.26px;line-height:40.26px;color:#303030;transform:scaleX(0.9000);">13</div>
<div class="t" style="left:446.55px;top:1837.91px;font-size:40.26px;line-height:40.26px;color:#303030;transform:scaleX(0.9000);">1.013</div>
<div class="t" style="left:650.46px;top:1837.91px;font-size:40.26px;line-height:40.26px;color:#303030;transform:scaleX(1.0382);">Seeding/Sod</div>
<div class="t" style="left:1547.60px;top:1837.91px;font-size:40.26px;line-height:40.26px;color:#303030;transform:scaleX(0.9000);">100</div>
<div class="t" style="left:1726.05px;top:1837.91px;font-size:40.26px;line-height:40.26px;color:#303030;transform:scaleX(0.8744);">CY</div>
<div class="t" style="left:2073.70px;top:1837.91px;font-size:40.26px;line-height:40.26px;color:#303030;transform:scaleX(0.9227);">$</div>
<div class="t" style="left:2234.80px;top:1837.91px;font-size:40.26px;line-height:40.26px;color:#303030;">-</div>
<div class="t" style="left:2542.80px;top:1837.91px;font-size:40.26px;line-height:40.26px;color:#303030;transform:scaleX(0.9227);">$</div>
<div class="t" style="left:2704.00px;top:1837.91px;font-size:40.26px;line-height:40.26px;color:#303030;">-</div>
<div class="t" style="left:3012.00px;top:1837.91px;font-size:40.26px;line-height:40.26px;color:#303030;transform:scaleX(0.9227);">$</div>
<div class="t" style="left:3172.80px;top:1837.91px;font-size:40.26px;line-height:40.26px;color:#303030;">-</div>
<div class="t" style="left:3480.80px;top:1837.91px;font-size:40.26px;line-height:40.26px;color:#303030;transform:scaleX(0.9227);">$</div>
<div class="t" style="left:3641.90px;top:1837.91px;font-size:40.26px;line-height:40.26px;color:#303030;">-</div>
<div class="t" style="left:3949.90px;top:1837.91px;font-size:40.26px;line-height:40.26px;color:#303030;transform:scaleX(0.9227);">$</div>
<div class="t" style="left:4111.00px;top:1837.91px;font-size:40.26px;line-height:40.26px;color:#303030;">-</div>
<div class="t" style="left:220.03px;top:1894.31px;font-size:40.26px;line-height:40.26px;color:#303030;transform:scaleX(0.9000);">14</div>
<div class="t" style="left:447.00px;top:1894.31px;font-size:40.26px;line-height:40.26px;color:#303030;transform:scaleX(0.9000);">2.001</div>
<div class="t" style="left:648.43px;top:1894.31px;font-size:40.26px;line-height:40.26px;color:#303030;transform:scaleX(1.0226);">Footings/Pads</div>
<div class="t" style="left:1568.65px;top:1894.31px;font-size:40.26px;line-height:40.26px;color:#303030;transform:scaleX(0.9000);">4</div>
<div class="t" style="left:1724.78px;top:1894.31px;font-size:40.26px;line-height:40.26px;color:#303030;transform:scaleX(0.9224);">EA</div>
<div class="t" style="left:2073.70px;top:1894.31px;font-size:40.26px;line-height:40.26px;color:#303030;transform:scaleX(0.9227);">$</div>
<div class="t" style="left:2234.80px;top:1894.31px;font-size:40.26px;line-height:40.26px;color:#303030;">-</div>
<div class="t" style="left:2542.80px;top:1894.31px;font-size:40.26px;line-height:40.26px;color:#303030;transform:scaleX(0.9227);">$</div>
<div class="t" style="left:2704.00px;top:1894.31px;font-size:40.26px;line-height:40.26px;color:#303030;">-</div>
<div class="t" style="left:3012.00px;top:1894.31px;font-size:40.26px;line-height:40.26px;color:#303030;transform:scaleX(0.9227);">$</div>
<div class="t" style="left:3172.80px;top:1894.31px;font-size:40.26px;line-height:40.26px;color:#303030;">-</div>
<div class="t" style="left:3480.80px;top:1894.31px;font-size:40.26px;line-height:40.26px;color:#303030;transform:scaleX(0.9227);">$</div>
<div class="t" style="left:3641.90px;top:1894.31px;font-size:40.26px;line-height:40.26px;color:#303030;">-</div>
<div class="t" style="left:3949.90px;top:1894.31px;font-size:40.26px;line-height:40.26px;color:#303030;transform:scaleX(0.9227);">$</div>
<div class="t" style="left:4111.00px;top:1894.31px;font-size:40.26px;line-height:40.26px;color:#303030;">-</div>
<div class="t" style="left:220.48px;top:1950.71px;font-size:40.26px;line-height:40.26px;color:#303030;transform:scaleX(0.9000);">15</div>
<div class="t" style="left:447.00px;top:1950.71px;font-size:40.26px;line-height:40.26px;color:#303030;transform:scaleX(0.9000);">2.002</div>
<div class="t" style="left:648.32px;top:1950.71px;font-size:40.26px;line-height:40.26px;color:#303030;transform:scaleX(1.0594);">Foundation walls/stem walls/grade beams</div>
<div class="t" style="left:1568.65px;top:1950.71px;font-size:40.26px;line-height:40.26px;color:#303030;transform:scaleX(0.9000);">4</div>
<div class="t" style="left:1724.78px;top:1950.71px;font-size:40.26px;line-height:40.26px;color:#303030;transform:scaleX(0.9224);">EA</div>
<div class="t" style="left:2073.70px;top:1950.71px;font-size:40.26px;line-height:40.26px;color:#303030;transform:scaleX(0.9227);">$</div>
<div class="t" style="left:2234.80px;top:1950.71px;font-size:40.26px;line-height:40.26px;color:#303030;">-</div>
<div class="t" style="left:2542.80px;top:1950.71px;font-size:40.26px;line-height:40.26px;color:#303030;transform:scaleX(0.9227);">$</div>
<div class="t" style="left:2704.00px;top:1950.71px;font-size:40.26px;line-height:40.26px;color:#303030;">-</div>
<div class="t" style="left:3012.00px;top:1950.71px;font-size:40.26px;line-height:40.26px;color:#303030;transform:scaleX(0.9227);">$</div>
<div class="t" style="left:3172.80px;top:1950.71px;font-size:40.26px;line-height:40.26px;color:#303030;">-</div>
<div class="t" style="left:3480.80px;top:1950.71px;font-size:40.26px;line-height:40.26px;color:#303030;transform:scaleX(0.9227);">$</div>
<div class="t" style="left:3641.90px;top:1950.71px;font-size:40.26px;line-height:40.26px;color:#303030;">-</div>
<div class="t" style="left:3949.90px;top:1950.71px;font-size:40.26px;line-height:40.26px;color:#303030;transform:scaleX(0.9227);">$</div>
<div class="t" style="left:4111.00px;top:1950.71px;font-size:40.26px;line-height:40.26px;color:#303030;">-</div>
<div class="t" style="left:220.48px;top:2007.11px;font-size:40.26px;line-height:40.26px;color:#303030;transform:scaleX(0.9000);">16</div>
<div class="t" style="left:447.00px;top:2007.11px;font-size:40.26px;line-height:40.26px;color:#303030;transform:scaleX(0.9000);">2.003</div>
<div class="t" style="left:650.48px;top:2007.11px;font-size:40.26px;line-height:40.26px;color:#303030;transform:scaleX(1.0156);">Slabs - Foundation, Basement, Garage</div>
<div class="t" style="left:1568.65px;top:2007.11px;font-size:40.26px;line-height:40.26px;color:#303030;transform:scaleX(0.9000);">3</div>
<div class="t" style="left:1724.78px;top:2007.11px;font-size:40.26px;line-height:40.26px;color:#303030;transform:scaleX(0.9224);">EA</div>
<div class="t" style="left:2073.70px;top:2007.11px;font-size:40.26px;line-height:40.26px;color:#303030;transform:scaleX(0.9227);">$</div>
<div class="t" style="left:2234.80px;top:2007.11px;font-size:40.26px;line-height:40.26px;color:#303030;">-</div>
<div class="t" style="left:2542.80px;top:2007.11px;font-size:40.26px;line-height:40.26px;color:#303030;transform:scaleX(0.9227);">$</div>
<div class="t" style="left:2704.00px;top:2007.11px;font-size:40.26px;line-height:40.26px;color:#303030;">-</div>
<div class="t" style="left:3012.00px;top:2007.11px;font-size:40.26px;line-height:40.26px;color:#303030;transform:scaleX(0.9227);">$</div>
<div class="t" style="left:3172.80px;top:2007.11px;font-size:40.26px;line-height:40.26px;color:#303030;">-</div>
<div class="t" style="left:3480.80px;top:2007.11px;font-size:40.26px;line-height:40.26px;color:#303030;transform:scaleX(0.9227);">$</div>
<div class="t" style="left:3641.90px;top:2007.11px;font-size:40.26px;line-height:40.26px;color:#303030;">-</div>
<div class="t" style="left:3949.90px;top:2007.11px;font-size:40.26px;line-height:40.26px;color:#303030;transform:scaleX(0.9227);">$</div>
<div class="t" style="left:4111.00px;top:2007.11px;font-size:40.26px;line-height:40.26px;color:#303030;">-</div>
<div class="t" style="left:220.48px;top:2063.51px;font-size:40.26px;line-height:40.26px;color:#303030;transform:scaleX(0.9000);">17</div>
<div class="t" style="left:446.55px;top:2063.51px;font-size:40.26px;line-height:40.26px;color:#303030;transform:scaleX(0.9000);">2.004</div>
<div class="t" style="left:650.48px;top:2063.51px;font-size:40.26px;line-height:40.26px;color:#303030;transform:scaleX(1.0220);">Steel Reinforcing</div>
<div class="t" style="left:1567.75px;top:2063.51px;font-size:40.26px;line-height:40.26px;color:#303030;transform:scaleX(0.9000);">1</div>
<div class="t" style="left:1732.50px;top:2063.51px;font-size:40.26px;line-height:40.26px;color:#303030;transform:scaleX(0.7345);">LS</div>
<div class="t" style="left:2073.70px;top:2063.51px;font-size:40.26px;line-height:40.26px;color:#303030;transform:scaleX(0.9227);">$</div>
<div class="t" style="left:2234.80px;top:2063.51px;font-size:40.26px;line-height:40.26px;color:#303030;">-</div>
<div class="t" style="left:2542.80px;top:2063.51px;font-size:40.26px;line-height:40.26px;color:#303030;transform:scaleX(0.9227);">$</div>
<div class="t" style="left:2704.00px;top:2063.51px;font-size:40.26px;line-height:40.26px;color:#303030;">-</div>
<div class="t" style="left:3012.00px;top:2063.51px;font-size:40.26px;line-height:40.26px;color:#303030;transform:scaleX(0.9227);">$</div>
<div class="t" style="left:3172.80px;top:2063.51px;font-size:40.26px;line-height:40.26px;color:#303030;">-</div>
<div class="t" style="left:3480.80px;top:2063.51px;font-size:40.26px;line-height:40.26px;color:#303030;transform:scaleX(0.9227);">$</div>
<div class="t" style="left:3641.90px;top:2063.51px;font-size:40.26px;line-height:40.26px;color:#303030;">-</div>
<div class="t" style="left:3949.90px;top:2063.51px;font-size:40.26px;line-height:40.26px;color:#303030;transform:scaleX(0.9227);">$</div>
<div class="t" style="left:4111.00px;top:2063.51px;font-size:40.26px;line-height:40.26px;color:#303030;">-</div>
<div class="t" style="left:220.48px;top:2119.91px;font-size:40.26px;line-height:40.26px;color:#303030;transform:scaleX(0.9000);">18</div>
<div class="t" style="left:447.00px;top:2119.91px;font-size:40.26px;line-height:40.26px;color:#303030;transform:scaleX(0.9000);">2.005</div>
<div class="t" style="left:651.50px;top:2119.91px;font-size:40.26px;line-height:40.26px;color:#303030;transform:scaleX(1.0173);">Anchor Bolts, Hold Downs</div>
<div class="t" style="left:1557.68px;top:2119.91px;font-size:40.26px;line-height:40.26px;color:#303030;transform:scaleX(0.9000);">16</div>
<div class="t" style="left:1724.78px;top:2119.91px;font-size:40.26px;line-height:40.26px;color:#303030;transform:scaleX(0.9224);">EA</div>
<div class="t" style="left:2073.70px;top:2119.91px;font-size:40.26px;line-height:40.26px;color:#303030;transform:scaleX(0.9227);">$</div>
<div class="t" style="left:2234.80px;top:2119.91px;font-size:40.26px;line-height:40.26px;color:#303030;">-</div>
<div class="t" style="left:2542.80px;top:2119.91px;font-size:40.26px;line-height:40.26px;color:#303030;transform:scaleX(0.9227);">$</div>
<div class="t" style="left:2704.00px;top:2119.91px;font-size:40.26px;line-height:40.26px;color:#303030;">-</div>
<div class="t" style="left:3012.00px;top:2119.91px;font-size:40.26px;line-height:40.26px;color:#303030;transform:scaleX(0.9227);">$</div>
<div class="t" style="left:3172.80px;top:2119.91px;font-size:40.26px;line-height:40.26px;color:#303030;">-</div>
<div class="t" style="left:3480.80px;top:2119.91px;font-size:40.26px;line-height:40.26px;color:#303030;transform:scaleX(0.9227);">$</div>
<div class="t" style="left:3641.90px;top:2119.91px;font-size:40.26px;line-height:40.26px;color:#303030;">-</div>
<div class="t" style="left:3949.90px;top:2119.91px;font-size:40.26px;line-height:40.26px;color:#303030;transform:scaleX(0.9227);">$</div>
<div class="t" style="left:4111.00px;top:2119.91px;font-size:40.26px;line-height:40.26px;color:#303030;">-</div>
<div class="t" style="left:220.48px;top:2176.31px;font-size:40.26px;line-height:40.26px;color:#303030;transform:scaleX(0.9000);">19</div>
<div class="t" style="left:447.00px;top:2176.31px;font-size:40.26px;line-height:40.26px;color:#303030;transform:scaleX(0.9000);">2.006</div>
<div class="t" style="left:648.44px;top:2176.31px;font-size:40.26px;line-height:40.26px;color:#303030;transform:scaleX(1.0188);">Bulkheads</div>
<div class="t" style="left:1568.65px;top:2176.31px;font-size:40.26px;line-height:40.26px;color:#303030;transform:scaleX(0.9000);">5</div>
<div class="t" style="left:1724.78px;top:2176.31px;font-size:40.26px;line-height:40.26px;color:#303030;transform:scaleX(0.9224);">EA</div>
<div class="t" style="left:2073.70px;top:2176.31px;font-size:40.26px;line-height:40.26px;color:#303030;transform:scaleX(0.9227);">$</div>
<div class="t" style="left:2234.80px;top:2176.31px;font-size:40.26px;line-height:40.26px;color:#303030;">-</div>
<div class="t" style="left:2542.80px;top:2176.31px;font-size:40.26px;line-height:40.26px;color:#303030;transform:scaleX(0.9227);">$</div>
<div class="t" style="left:2704.00px;top:2176.31px;font-size:40.26px;line-height:40.26px;color:#303030;">-</div>
<div class="t" style="left:3012.00px;top:2176.31px;font-size:40.26px;line-height:40.26px;color:#303030;transform:scaleX(0.9227);">$</div>
<div class="t" style="left:3172.80px;top:2176.31px;font-size:40.26px;line-height:40.26px;color:#303030;">-</div>
<div class="t" style="left:3480.80px;top:2176.31px;font-size:40.26px;line-height:40.26px;color:#303030;transform:scaleX(0.9227);">$</div>
<div class="t" style="left:3641.90px;top:2176.31px;font-size:40.26px;line-height:40.26px;color:#303030;">-</div>
<div class="t" style="left:3949.90px;top:2176.31px;font-size:40.26px;line-height:40.26px;color:#303030;transform:scaleX(0.9227);">$</div>
<div class="t" style="left:4111.00px;top:2176.31px;font-size:40.26px;line-height:40.26px;color:#303030;">-</div>
<div class="t" style="left:220.93px;top:2232.71px;font-size:40.26px;line-height:40.26px;color:#303030;transform:scaleX(0.9000);">20</div>
<div class="t" style="left:447.00px;top:2232.71px;font-size:40.26px;line-height:40.26px;color:#303030;transform:scaleX(0.9000);">2.007</div>
<div class="t" style="left:650.50px;top:2232.71px;font-size:40.26px;line-height:40.26px;color:#303030;transform:scaleX(0.9966);">Sub-Slab Vapor Barrier</div>
<div class="t" style="left:1547.60px;top:2232.71px;font-size:40.26px;line-height:40.26px;color:#303030;transform:scaleX(0.9000);">100</div>
<div class="t" style="left:1733.31px;top:2232.71px;font-size:40.26px;line-height:40.26px;color:#303030;transform:scaleX(0.7314);">LF</div>
<div class="t" style="left:2073.70px;top:2232.71px;font-size:40.26px;line-height:40.26px;color:#303030;transform:scaleX(0.9227);">$</div>
<div class="t" style="left:2234.80px;top:2232.71px;font-size:40.26px;line-height:40.26px;color:#303030;">-</div>
<div class="t" style="left:2542.80px;top:2232.71px;font-size:40.26px;line-height:40.26px;color:#303030;transform:scaleX(0.9227);">$</div>
<div class="t" style="left:2704.00px;top:2232.71px;font-size:40.26px;line-height:40.26px;color:#303030;">-</div>
<div class="t" style="left:3012.00px;top:2232.71px;font-size:40.26px;line-height:40.26px;color:#303030;transform:scaleX(0.9227);">$</div>
<div class="t" style="left:3172.80px;top:2232.71px;font-size:40.26px;line-height:40.26px;color:#303030;">-</div>
<div class="t" style="left:3480.80px;top:2232.71px;font-size:40.26px;line-height:40.26px;color:#303030;transform:scaleX(0.9227);">$</div>
<div class="t" style="left:3641.90px;top:2232.71px;font-size:40.26px;line-height:40.26px;color:#303030;">-</div>
<div class="t" style="left:3949.90px;top:2232.71px;font-size:40.26px;line-height:40.26px;color:#303030;transform:scaleX(0.9227);">$</div>
<div class="t" style="left:4111.00px;top:2232.71px;font-size:40.26px;line-height:40.26px;color:#303030;">-</div>
<div class="t" style="left:220.93px;top:2289.11px;font-size:40.26px;line-height:40.26px;color:#303030;transform:scaleX(0.9000);">21</div>
<div class="t" style="left:447.00px;top:2289.11px;font-size:40.26px;line-height:40.26px;color:#303030;transform:scaleX(0.9000);">2.008</div>
<div class="t" style="left:650.53px;top:2289.11px;font-size:40.26px;line-height:40.26px;color:#303030;transform:scaleX(0.9676);">Sump Pump</div>
<div class="t" style="left:1567.75px;top:2289.11px;font-size:40.26px;line-height:40.26px;color:#303030;transform:scaleX(0.9000);">1</div>
<div class="t" style="left:1732.50px;top:2289.11px;font-size:40.26px;line-height:40.26px;color:#303030;transform:scaleX(0.7345);">LS</div>
<div class="t" style="left:2073.70px;top:2289.11px;font-size:40.26px;line-height:40.26px;color:#303030;transform:scaleX(0.9227);">$</div>
<div class="t" style="left:2234.80px;top:2289.11px;font-size:40.26px;line-height:40.26px;color:#303030;">-</div>
<div class="t" style="left:2542.80px;top:2289.11px;font-size:40.26px;line-height:40.26px;color:#303030;transform:scaleX(0.9227);">$</div>
<div class="t" style="left:2704.00px;top:2289.11px;font-size:40.26px;line-height:40.26px;color:#303030;">-</div>
<div class="t" style="left:3012.00px;top:2289.11px;font-size:40.26px;line-height:40.26px;color:#303030;transform:scaleX(0.9227);">$</div>
<div class="t" style="left:3172.80px;top:2289.11px;font-size:40.26px;line-height:40.26px;color:#303030;">-</div>
<div class="t" style="left:3480.80px;top:2289.11px;font-size:40.26px;line-height:40.26px;color:#303030;transform:scaleX(0.9227);">$</div>
<div class="t" style="left:3641.90px;top:2289.11px;font-size:40.26px;line-height:40.26px;color:#303030;">-</div>
<div class="t" style="left:3949.90px;top:2289.11px;font-size:40.26px;line-height:40.26px;color:#303030;transform:scaleX(0.9227);">$</div>
<div class="t" style="left:4111.00px;top:2289.11px;font-size:40.26px;line-height:40.26px;color:#303030;">-</div>
<div class="t" style="left:220.93px;top:2345.51px;font-size:40.26px;line-height:40.26px;color:#303030;transform:scaleX(0.9000);">22</div>
<div class="t" style="left:447.00px;top:2345.51px;font-size:40.26px;line-height:40.26px;color:#303030;transform:scaleX(0.9000);">2.009</div>
<div class="t" style="left:649.37px;top:2345.51px;font-size:40.26px;line-height:40.26px;color:#303030;transform:scaleX(1.0639);">Crawlspace Vapor Barrier</div>
<div class="t" style="left:1547.60px;top:2345.51px;font-size:40.26px;line-height:40.26px;color:#303030;transform:scaleX(0.9000);">100</div>
<div class="t" style="left:1733.31px;top:2345.51px;font-size:40.26px;line-height:40.26px;color:#303030;transform:scaleX(0.7314);">LF</div>
<div class="t" style="left:2073.70px;top:2345.51px;font-size:40.26px;line-height:40.26px;color:#303030;transform:scaleX(0.9227);">$</div>
<div class="t" style="left:2234.80px;top:2345.51px;font-size:40.26px;line-height:40.26px;color:#303030;">-</div>
<div class="t" style="left:2542.80px;top:2345.51px;font-size:40.26px;line-height:40.26px;color:#303030;transform:scaleX(0.9227);">$</div>
<div class="t" style="left:2704.00px;top:2345.51px;font-size:40.26px;line-height:40.26px;color:#303030;">-</div>
<div class="t" style="left:3012.00px;top:2345.51px;font-size:40.26px;line-height:40.26px;color:#303030;transform:scaleX(0.9227);">$</div>
<div class="t" style="left:3172.80px;top:2345.51px;font-size:40.26px;line-height:40.26px;color:#303030;">-</div>
<div class="t" style="left:3480.80px;top:2345.51px;font-size:40.26px;line-height:40.26px;color:#303030;transform:scaleX(0.9227);">$</div>
<div class="t" style="left:3641.90px;top:2345.51px;font-size:40.26px;line-height:40.26px;color:#303030;">-</div>
<div class="t" style="left:3949.90px;top:2345.51px;font-size:40.26px;line-height:40.26px;color:#303030;transform:scaleX(0.9227);">$</div>
<div class="t" style="left:4111.00px;top:2345.51px;font-size:40.26px;line-height:40.26px;color:#303030;">-</div>
<div class="t" style="left:220.93px;top:2401.91px;font-size:40.26px;line-height:40.26px;color:#303030;transform:scaleX(0.9000);">23</div>
<div class="t" style="left:447.00px;top:2401.91px;font-size:40.26px;line-height:40.26px;color:#303030;transform:scaleX(0.9000);">2.010</div>
<div class="t" style="left:649.36px;top:2401.91px;font-size:40.26px;line-height:40.26px;color:#303030;transform:scaleX(1.0686);">Crawlspace Vents</div>
<div class="t" style="left:1568.65px;top:2401.91px;font-size:40.26px;line-height:40.26px;color:#303030;transform:scaleX(0.9000);">5</div>
<div class="t" style="left:1724.78px;top:2401.91px;font-size:40.26px;line-height:40.26px;color:#303030;transform:scaleX(0.9224);">EA</div>
<div class="t" style="left:2073.70px;top:2401.91px;font-size:40.26px;line-height:40.26px;color:#303030;transform:scaleX(0.9227);">$</div>
<div class="t" style="left:2234.80px;top:2401.91px;font-size:40.26px;line-height:40.26px;color:#303030;">-</div>
<div class="t" style="left:2542.80px;top:2401.91px;font-size:40.26px;line-height:40.26px;color:#303030;transform:scaleX(0.9227);">$</div>
<div class="t" style="left:2704.00px;top:2401.91px;font-size:40.26px;line-height:40.26px;color:#303030;">-</div>
<div class="t" style="left:3012.00px;top:2401.91px;font-size:40.26px;line-height:40.26px;color:#303030;transform:scaleX(0.9227);">$</div>
<div class="t" style="left:3172.80px;top:2401.91px;font-size:40.26px;line-height:40.26px;color:#303030;">-</div>
<div class="t" style="left:3480.80px;top:2401.91px;font-size:40.26px;line-height:40.26px;color:#303030;transform:scaleX(0.9227);">$</div>
<div class="t" style="left:3641.90px;top:2401.91px;font-size:40.26px;line-height:40.26px;color:#303030;">-</div>
<div class="t" style="left:3949.90px;top:2401.91px;font-size:40.26px;line-height:40.26px;color:#303030;transform:scaleX(0.9227);">$</div>
<div class="t" style="left:4111.00px;top:2401.91px;font-size:40.26px;line-height:40.26px;color:#303030;">-</div>
<div class="t" style="left:1522.00px;top:2479.35px;font-size:39.39px;line-height:39.39px;font-weight:700;transform:scaleX(0.8554);">TOTAL BASE BID</div>
<div class="t" style="left:1290.70px;top:2571.55px;font-size:39.39px;line-height:39.39px;font-weight:700;transform:scaleX(0.8527);">TAX RATE</div>
<div class="t" style="left:1520.93px;top:2570.81px;font-size:40.26px;line-height:40.26px;color:#303030;transform:scaleX(0.9730);">9.90%</div>
<div class="t" style="left:1736.80px;top:2571.55px;font-size:39.39px;line-height:39.39px;font-weight:700;transform:scaleX(0.8473);">TAX</div>
<div class="t" style="left:1447.40px;top:2663.35px;font-size:39.39px;line-height:39.39px;font-weight:700;transform:scaleX(0.9041);">TOTAL BID AMOUNT</div>
<div class="t" style="left:1865.90px;top:2479.35px;font-size:39.39px;line-height:39.39px;font-weight:700;">$</div>
<div class="t" style="left:2124.20px;top:2479.35px;font-size:39.39px;line-height:39.39px;font-weight:700;transform:scaleX(1.0396);">4,185.00</div>
<div class="t" style="left:1865.90px;top:2571.55px;font-size:39.39px;line-height:39.39px;font-weight:700;">$</div>
<div class="t" style="left:2158.20px;top:2571.55px;font-size:39.39px;line-height:39.39px;font-weight:700;transform:scaleX(1.0407);">414.32</div>
<div class="t" style="left:1865.90px;top:2663.35px;font-size:39.39px;line-height:39.39px;font-weight:700;">$</div>
<div class="t" style="left:2124.20px;top:2663.35px;font-size:39.39px;line-height:39.39px;font-weight:700;transform:scaleX(1.0396);">4,599.32</div>
<div class="t" style="left:2333.60px;top:2479.35px;font-size:39.39px;line-height:39.39px;font-weight:700;">$</div>
<div class="t" style="left:2593.40px;top:2479.35px;font-size:39.39px;line-height:39.39px;font-weight:700;transform:scaleX(1.0396);">4,310.00</div>
<div class="t" style="left:2333.60px;top:2571.55px;font-size:39.39px;line-height:39.39px;font-weight:700;">$</div>
<div class="t" style="left:2627.40px;top:2571.55px;font-size:39.39px;line-height:39.39px;font-weight:700;transform:scaleX(1.0407);">426.69</div>
<div class="t" style="left:2333.60px;top:2663.35px;font-size:39.39px;line-height:39.39px;font-weight:700;">$</div>
<div class="t" style="left:2593.40px;top:2663.35px;font-size:39.39px;line-height:39.39px;font-weight:700;transform:scaleX(1.0396);">4,736.69</div>
<div class="t" style="left:2802.80px;top:2479.35px;font-size:39.39px;line-height:39.39px;font-weight:700;">$</div>
<div class="t" style="left:3061.15px;top:2479.35px;font-size:39.39px;line-height:39.39px;font-weight:700;transform:scaleX(1.0464);">5,260.00</div>
<div class="t" style="left:2802.80px;top:2571.55px;font-size:39.39px;line-height:39.39px;font-weight:700;">$</div>
<div class="t" style="left:3095.16px;top:2571.55px;font-size:39.39px;line-height:39.39px;font-weight:700;transform:scaleX(1.0407);">520.74</div>
<div class="t" style="left:2802.80px;top:2663.35px;font-size:39.39px;line-height:39.39px;font-weight:700;">$</div>
<div class="t" style="left:3061.16px;top:2663.35px;font-size:39.39px;line-height:39.39px;font-weight:700;transform:scaleX(1.0396);">5,780.74</div>
<div class="t" style="left:3271.60px;top:2479.35px;font-size:39.39px;line-height:39.39px;font-weight:700;">$</div>
<div class="t" style="left:3628.70px;top:2479.35px;font-size:39.39px;line-height:39.39px;font-weight:700;">-</div>
<div class="t" style="left:3271.60px;top:2571.55px;font-size:39.39px;line-height:39.39px;font-weight:700;">$</div>
<div class="t" style="left:3628.70px;top:2571.55px;font-size:39.39px;line-height:39.39px;font-weight:700;">-</div>
<div class="t" style="left:3271.60px;top:2663.35px;font-size:39.39px;line-height:39.39px;font-weight:700;">$</div>
<div class="t" style="left:3628.70px;top:2663.35px;font-size:39.39px;line-height:39.39px;font-weight:700;">-</div>
<div class="t" style="left:3740.70px;top:2479.35px;font-size:39.39px;line-height:39.39px;font-weight:700;">$</div>
<div class="t" style="left:4097.80px;top:2479.35px;font-size:39.39px;line-height:39.39px;font-weight:700;">-</div>
<div class="t" style="left:3740.70px;top:2571.55px;font-size:39.39px;line-height:39.39px;font-weight:700;">$</div>
<div class="t" style="left:4097.80px;top:2571.55px;font-size:39.39px;line-height:39.39px;font-weight:700;">-</div>
<div class="t" style="left:3740.70px;top:2663.35px;font-size:39.39px;line-height:39.39px;font-weight:700;">$</div>
<div class="t" style="left:4097.80px;top:2663.35px;font-size:39.39px;line-height:39.39px;font-weight:700;">-</div>
<div class="t" style="left:1788.38px;top:3098.46px;font-size:72.68px;line-height:72.68px;font-style:italic;color:#404040;transform:scaleX(0.9594);">Smartsheet</div>
<div class="t" style="left:2166.68px;top:3098.46px;font-size:72.68px;line-height:72.68px;font-style:italic;color:#404040;transform:scaleX(1.0118);">Inc.</div>
<div class="t" style="left:2301.17px;top:3098.46px;font-size:72.68px;line-height:72.68px;font-style:italic;color:#404040;transform:scaleX(0.9135);">©2025</div>
</body></html>
